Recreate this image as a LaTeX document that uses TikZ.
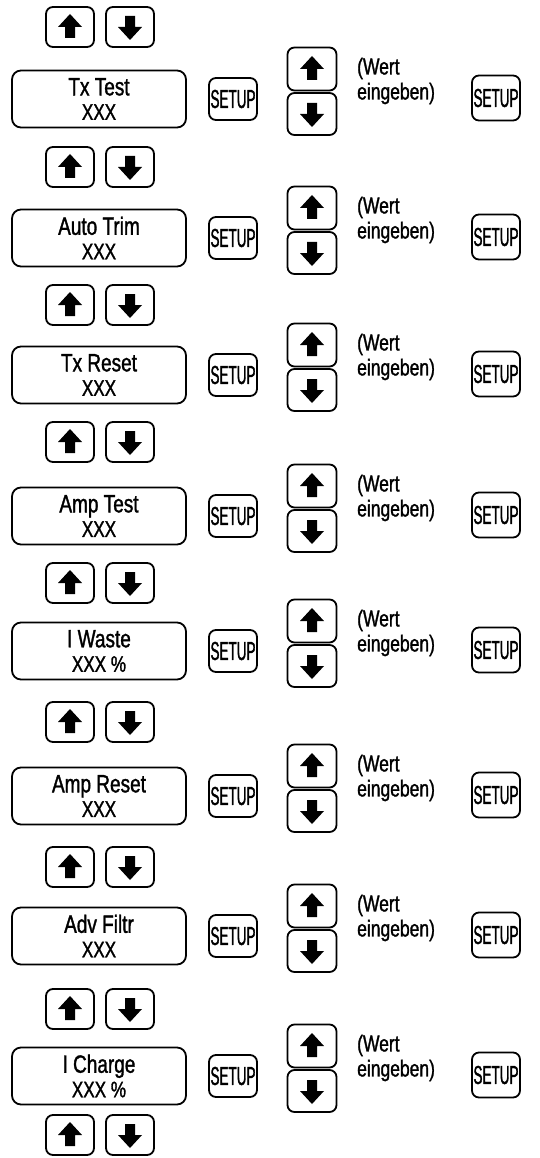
\documentclass[tikz,border=0pt]{standalone}
\usepackage{fontspec}
% condensed sans for labels, extra-narrow for the SETUP key caption
\newfontfamily\condfont[FakeStretch=0.76,FakeBold=1.3]{Liberation Sans}
\newfontfamily\keyfont[FakeStretch=0.52,FakeBold=1.3]{Liberation Sans}
\begin{document}
\begin{tikzpicture}[x=1pt,y=-1pt,
  frame/.style={draw=black, line width=1.8pt, rounded corners=7pt, inner sep=0pt},
  display/.style={frame, rounded corners=9pt, minimum width=174pt, minimum height=57pt,
    align=center, font=\condfont\fontsize{25}{24.5}\selectfont},
  arrowkey/.style={frame, minimum width=48pt, minimum height=40pt},
  upkey/.style={arrowkey, path picture={
    \fill[sharp corners, shift={(path picture bounding box.center)}]
      (0pt,13pt) -- (12pt,0pt) -- (5pt,0pt) -- (5pt,-11pt) -- (-5pt,-11pt)
      -- (-5pt,0pt) -- (-12pt,0pt) -- cycle;}},
  downkey/.style={arrowkey, path picture={
    \fill[sharp corners, shift={(path picture bounding box.center)}]
      (0pt,-13pt) -- (12pt,0pt) -- (5pt,0pt) -- (5pt,11pt) -- (-5pt,11pt)
      -- (-5pt,0pt) -- (-12pt,0pt) -- cycle;}},
  setupkey/.style={frame, minimum width=48pt, minimum height=42pt,
    font=\keyfont\fontsize{26}{26}\selectfont},
  hint/.style={anchor=west, inner sep=0pt, align=left,
    font=\condfont\fontsize{23}{25}\selectfont}
]
\useasboundingbox (0,0) rectangle (540,1158);

% one menu step per row: display, SETUP, value keys, hint, SETUP
\foreach \c/\kt/\lbl/\val [count=\i] in {
  99/27/Tx Test/XXX,
  238/167/Auto Trim/XXX,
  375/305/Tx Reset/XXX,
  516/442/Amp Test/XXX,
  651/583/I Waste/XXX \%,
  796/722/Amp Reset/XXX,
  936/867/Adv Filtr/XXX,
  1076/1009/I Charge/XXX \%}
{
  \node[upkey] (ku\i) at (70,\kt) {};
  \node[downkey] (kd\i) at (130,\kt) {};
  \node[display] (d\i) at (99,\c) {\lbl\\{\fontsize{22.5}{24.5}\selectfont\val}};
  \node[setupkey] (s\i) at (233,\c) {SETUP};
  \node[upkey, minimum width=49pt, minimum height=43pt] (ru\i) at (312,\c-30) {};
  \node[downkey, minimum width=49pt, minimum height=42pt] (rd\i) at (312,\c+15) {};
  \node[hint] (w\i) at (357,\c-18) {(Wert\\eingeben)};
  \node[setupkey, minimum height=45pt] (t\i) at (496,\c-1) {SETUP};
}

% keys below the last step
\node[upkey] (ku9) at (70,1135) {};
\node[downkey] (kd9) at (130,1135) {};
\end{tikzpicture}
\end{document}
